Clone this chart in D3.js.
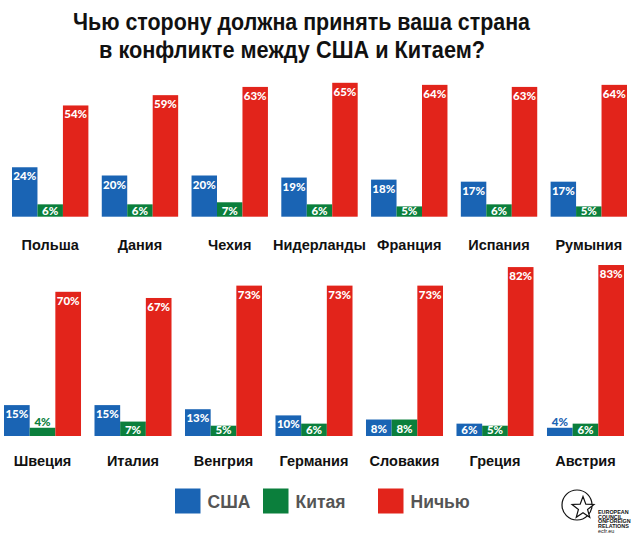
<!DOCTYPE html>
<html>
<head>
<meta charset="utf-8">
<script src="https://cdn.jsdelivr.net/npm/d3@7"></script>
<style>
  html, body { margin: 0; padding: 0; background: #fff; }
  svg { display: block; }
</style>
</head>
<body>
<svg id="chart" width="640" height="547"></svg>
<script>
// ---- Data ----
const titleLines = ["Чью сторону должна принять ваша страна", "в конфликте между США и Китаем?"];
const seriesNames = ["США", "Китая", "Ничью"];
const seriesColors = ["#1a64b4", "#0b7f3c", "#e2241b"];

const categoriesTop = ["Польша", "Дания", "Чехия", "Нидерланды", "Франция", "Испания", "Румыния"];
const usaTop = [24, 20, 20, 19, 18, 17, 17];
const chinaTop = [6, 6, 7, 6, 5, 6, 5];
const neitherTop = [54, 59, 63, 65, 64, 63, 64];

const categoriesBottom = ["Швеция", "Италия", "Венгрия", "Германия", "Словакия", "Греция", "Австрия"];
const usaBottom = [15, 15, 13, 10, 8, 6, 4];
const chinaBottom = [4, 7, 5, 6, 8, 5, 6];
const neitherBottom = [70, 67, 73, 73, 73, 82, 83];

const logoLines = ["EUROPEAN", "COUNCIL", "ONFOREIGN", "RELATIONS"];
const logoUrl = "ecfr.eu";

// ---- Drawing ----
const svg = d3.select("#chart");

// Title
const titleFont = "'Liberation Sans Narrow', 'Liberation Sans', Arial, sans-serif";
svg.append("text")
  .attr("x", 73).attr("y", 29.5)
  .attr("textLength", 457).attr("lengthAdjust", "spacingAndGlyphs")
  .style("font-family", titleFont).style("font-weight", "bold").style("font-size", "23.5px")
  .attr("fill", "#111").text(titleLines[0]);
svg.append("text")
  .attr("x", 99).attr("y", 57.5)
  .attr("textLength", 386).attr("lengthAdjust", "spacingAndGlyphs")
  .style("font-family", titleFont).style("font-weight", "bold").style("font-size", "23.5px")
  .attr("fill", "#111").text(titleLines[1]);

function drawRow(categories, values, rangeX, baseY, labelY) {
  const data = categories.map((c, i) => ({ cat: c, vals: values.map(v => v[i]) }));
  const x0 = d3.scaleBand().domain(categories).range(rangeX).paddingInner(0.149).paddingOuter(0);
  const x1 = d3.scaleBand().domain(seriesNames).range([0, x0.bandwidth()]).padding(0);
  const y = d3.scaleLinear().domain([0, 100]).range([baseY, baseY - 206]);

  const g = svg.append("g");
  const groups = g.selectAll("g.grp").data(data).enter().append("g")
    .attr("transform", d => `translate(${x0(d.cat)},0)`);

  const bars = groups.selectAll("g.bar")
    .data(d => d.vals.map((v, j) => ({ name: seriesNames[j], v, j })))
    .enter().append("g");

  bars.append("rect")
    .attr("x", d => x1(d.name))
    .attr("y", d => y(d.v))
    .attr("width", x1.bandwidth())
    .attr("height", d => baseY - y(d.v))
    .attr("fill", d => seriesColors[d.j]);

  bars.append("text")
    .attr("x", d => x1(d.name) + x1.bandwidth() / 2)
    .attr("y", d => d.v < 5 ? y(d.v) - 2 : Math.min(y(d.v) + 13, baseY - 2))
    .attr("text-anchor", "middle")
    .attr("fill", d => d.v < 5 ? seriesColors[d.j] : "#fff")
    .style("font-family", "Lato, 'Open Sans', sans-serif")
    .style("font-weight", "900")
    .style("font-size", "11.5px")
    .text(d => d.v + "%");

  groups.append("text")
    .attr("x", x0.bandwidth() / 2)
    .attr("y", labelY)
    .attr("text-anchor", "middle")
    .attr("fill", "#111")
    .style("font-family", "'Liberation Sans', Arial, sans-serif")
    .style("font-weight", "bold")
    .style("font-size", "14.5px")
    .text(d => d.cat);
}

drawRow(categoriesTop, [usaTop, chinaTop, neitherTop], [12, 627], 216.7, 250);
drawRow(categoriesBottom, [usaBottom, chinaBottom, neitherBottom], [4, 624], 436, 466);

// Legend
const legendX = [175, 263, 378];
const lg = svg.append("g");
seriesNames.forEach((n, i) => {
  lg.append("rect").attr("x", legendX[i]).attr("y", 488.5).attr("width", 25.5).attr("height", 25)
    .attr("fill", seriesColors[i]);
  lg.append("text").attr("x", legendX[i] + 32.5).attr("y", 507.5)
    .attr("fill", "#555")
    .style("font-family", "'Liberation Sans', Arial, sans-serif")
    .style("font-weight", "bold").style("font-size", "17.5px")
    .text(n);
});

// Logo
const logo = svg.append("g");
logo.append("circle").attr("cx", 577).attr("cy", 505).attr("r", 15)
  .attr("fill", "none").attr("stroke", "#111").attr("stroke-width", 1.2);
const starPts = d3.range(10).map(k => {
  const r = k % 2 === 0 ? 11.5 : 4.8;
  const a = -Math.PI / 2 + k * Math.PI / 5;
  return [583 + r * Math.cos(a), 508 + r * Math.sin(a)];
});
logo.append("polygon").attr("points", starPts.map(p => p.join(",")).join(" "))
  .attr("fill", "#fff").attr("stroke", "#111").attr("stroke-width", 1.2);
logoLines.forEach((t, i) => {
  logo.append("text").attr("x", 598).attr("y", 514 + i * 4.6)
    .style("font-family", "'Liberation Sans', Arial, sans-serif")
    .style("font-weight", "bold").style("font-size", "5.4px").attr("fill", "#111").text(t);
});
logo.append("text").attr("x", 598).attr("y", 532.8)
  .style("font-family", "'Liberation Sans', Arial, sans-serif")
  .style("font-size", "5.4px").attr("fill", "#111").text(logoUrl);
</script>
</body>
</html>
